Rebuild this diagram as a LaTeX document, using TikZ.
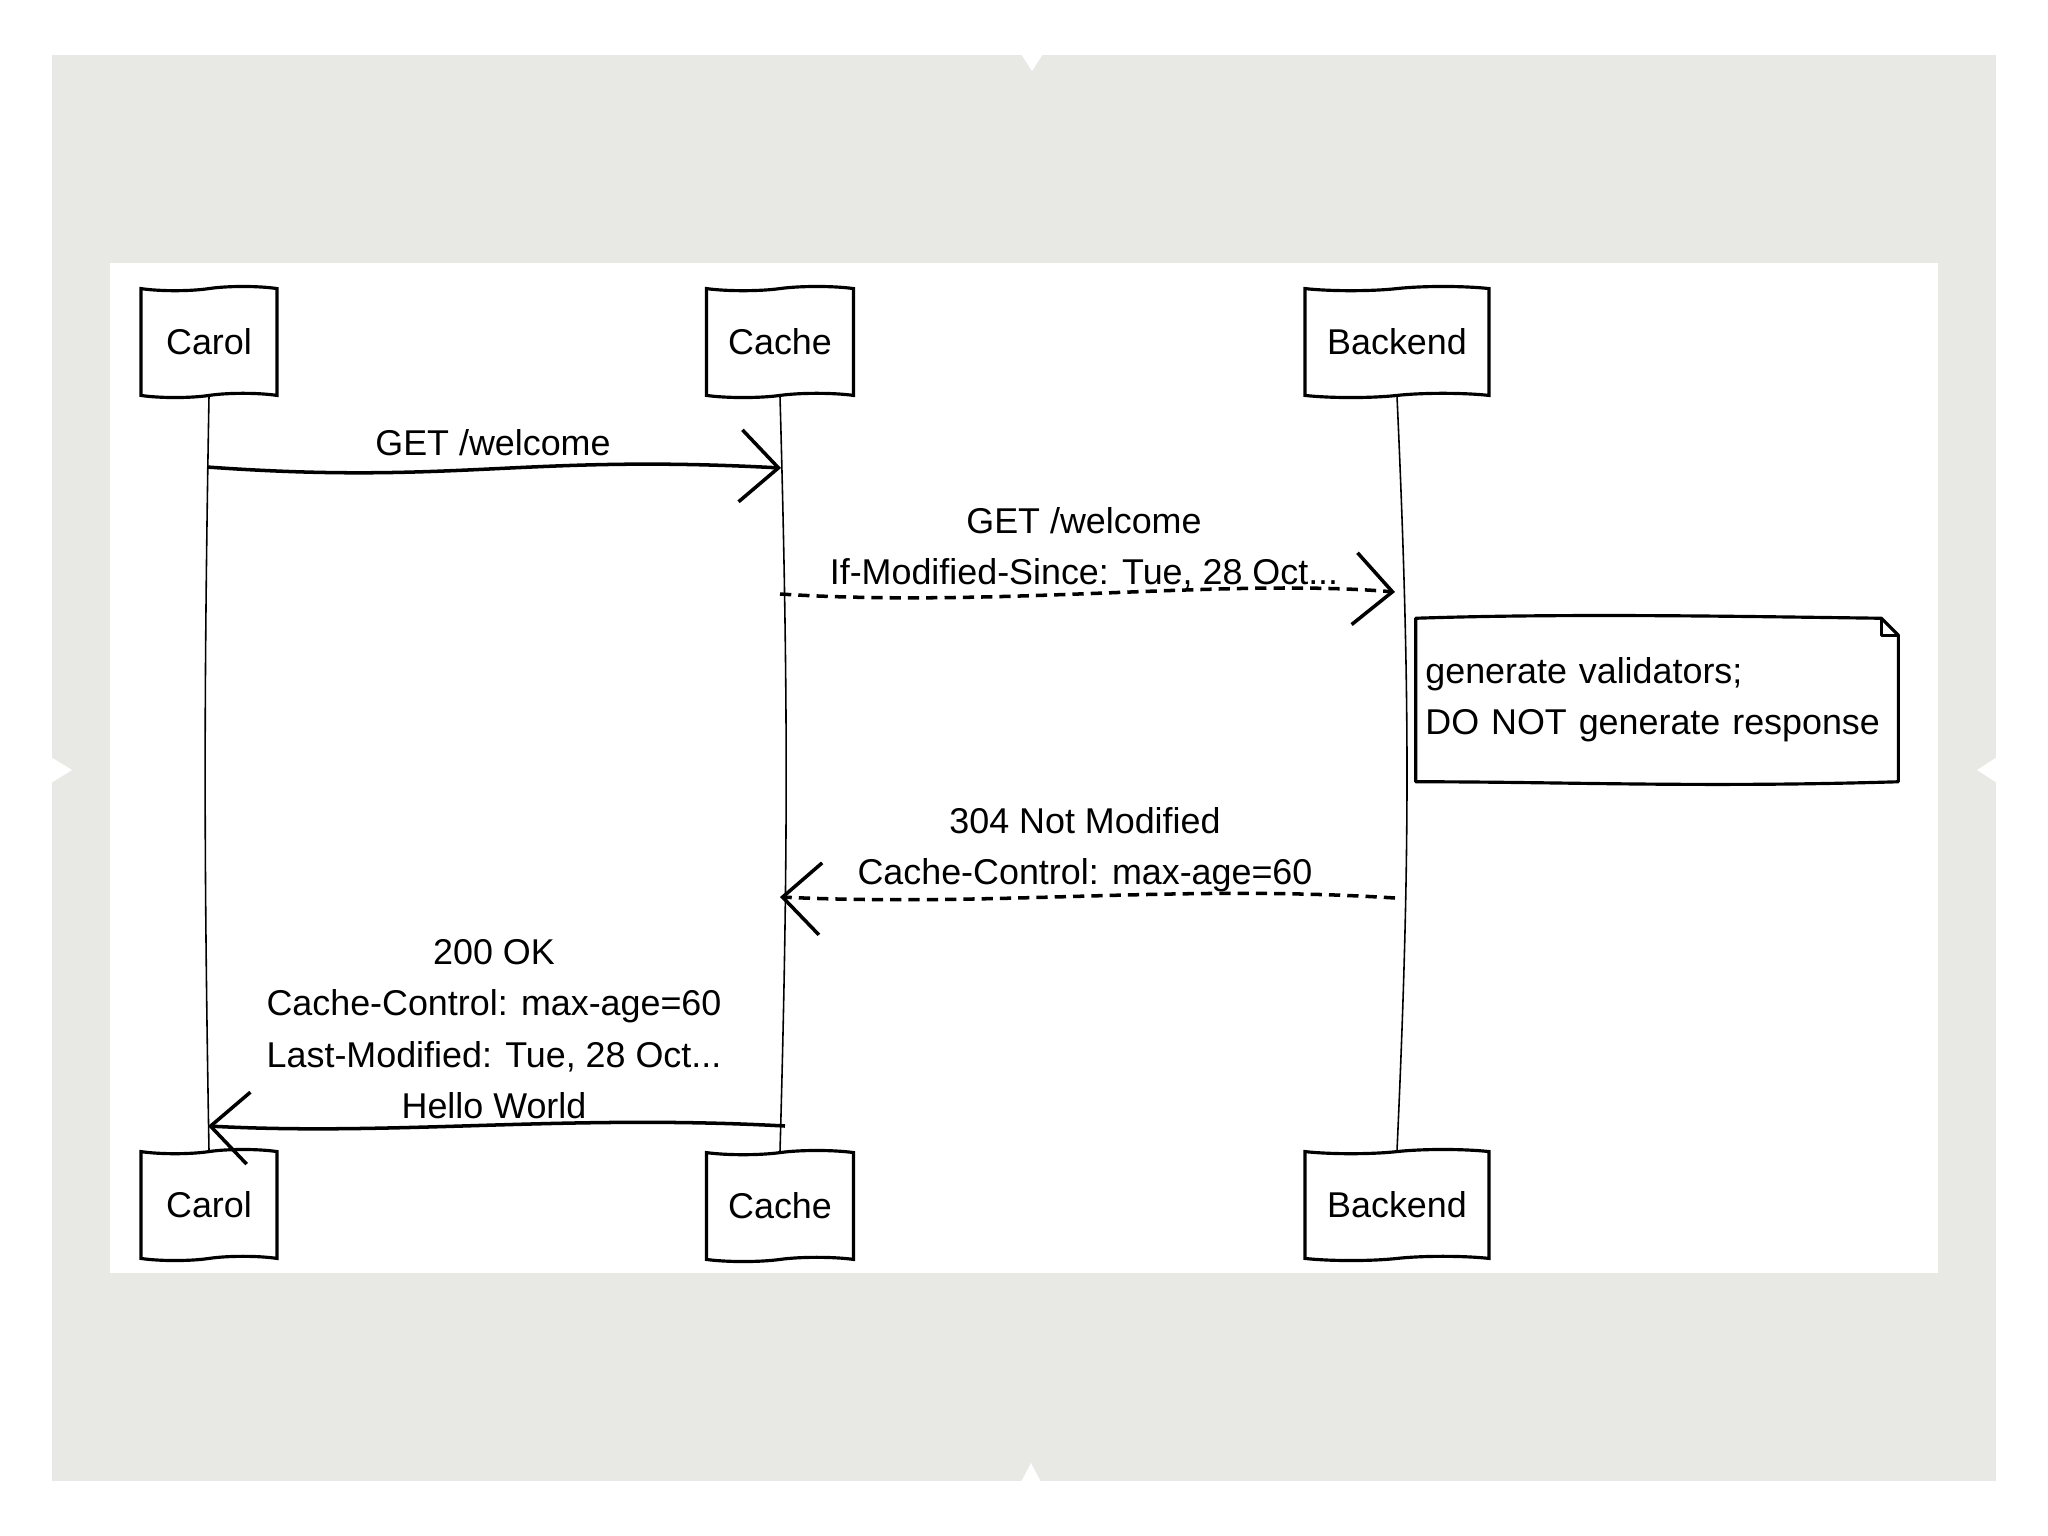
\documentclass[tikz,border=0pt]{standalone}
\usepackage{fontspec}
\setmainfont{Liberation Sans}
\usepackage{xcolor}
\usepackage{tikz}
\usetikzlibrary{arrows.meta, shapes.symbols, positioning}
\definecolor{slidegrey}{RGB}{232,232,228}
\tikzstyle{actor} = [tape, draw, line width=0.9pt, tape bend height=1.2pt, minimum height=1.11cm, inner sep=0pt, fill=white]
\tikzstyle{life}  = [line width=0.45pt]
\tikzstyle{msg}   = [line width=1pt, -{Straight Barb[length=3.8mm, width=7.2mm]}]
\tikzstyle{reply} = [msg, dash pattern=on 3.2pt off 2pt]
\tikzstyle{notebox} = [minimum width=4.81cm, minimum height=1.62cm, text width=4.63cm, inner sep=0.09cm, align=left]
\tikzstyle{noteline} = [line width=0.9pt, line join=round]
\tikzset{every node/.style={align=center, font=\fontsize{10.2}{14.6}\selectfont}}

\begin{document}
\begin{tikzpicture}[x=0.01cm, y=-0.01cm]
    \useasboundingbox (0,0) rectangle (2048,1536);
    \fill [slidegrey] (52,55) rectangle (1996,1481);
    \fill [white] (1021,54) -- (1032,71) -- (1043,54) -- cycle;
    \fill [white] (1021,1482) -- (1031,1463) -- (1041,1482) -- cycle;
    \fill [white] (51,757) -- (72,770) -- (51,783) -- cycle;
    \fill [white] (1997,757) -- (1977,770) -- (1997,783) -- cycle;
    \fill [white] (110,263) rectangle (1938,1273);

    \node (carolT) at (209,342)  [actor, minimum width=1.36cm] {Carol};
    \node (cacheT) at (780,342)  [actor, minimum width=1.47cm] {Cache};
    \node (backT)  at (1397,342) [actor, minimum width=1.84cm] {Backend};
    \node (carolB) at (209,1205) [actor, minimum width=1.36cm] {Carol};
    \node (cacheB) at (780,1206) [actor, minimum width=1.47cm] {Cache};
    \node (backB)  at (1397,1205)[actor, minimum width=1.84cm] {Backend};

    \draw [life] (carolT.south) to[bend right=1]   (carolB.north);
    \draw [life] (cacheT.south) to[bend left=1.6]  (cacheB.north);
    \draw [life] (backT.south)  to[bend left=2.6]  (backB.north);

    \coordinate (carolM1) at (207,467);
    \coordinate (cacheM1) at (781,468);
    \coordinate (cacheM2) at (780,594);
    \coordinate (backM2)  at (1395,592);
    \coordinate (backM3)  at (1395,898);
    \coordinate (cacheM3) at (780,897);
    \coordinate (cacheM4) at (785,1126);
    \coordinate (carolM4) at (208,1126);

    \node (getLbl)  at (493,443)  {GET /welcome};
    \node (condLbl) at (1084,548) {GET /welcome\\If-Modified-Since: Tue, 28 Oct...};
    \node (nmLbl)   at (1085,850) {304 Not Modified\\Cache-Control: max-age=60};
    \node (okLbl)   at (494,1029) {200 OK\\Cache-Control: max-age=60\\Last-Modified: Tue, 28 Oct...\\Hello World};

    \draw [msg]   (carolM1) .. controls +(250,18) and +(-260,-14) .. (cacheM1);
    \draw [reply] (cacheM2) .. controls +(220,14) and +(-170,-14) .. (backM2);
    \draw [reply] (backM3)  .. controls +(-220,-14) and +(220,10) .. (cacheM3);
    \draw [msg]   (cacheM4) .. controls +(-220,-12) and +(190,10) .. (carolM4);

    \node (note) at (1657,700) [notebox] {generate validators;\\DO NOT generate response};
    \draw [noteline] (note.north west) .. controls +(150,-5) and +(-150,-2) .. ([xshift=-0.17cm]note.north east)
        -- ([yshift=-0.17cm]note.north east) -- (note.south east)
        .. controls +(-200,6) and +(150,0) .. (note.south west) -- cycle;
    \draw [noteline] ([xshift=-0.17cm]note.north east) |- ([yshift=-0.17cm]note.north east);
\end{tikzpicture}
\end{document}
